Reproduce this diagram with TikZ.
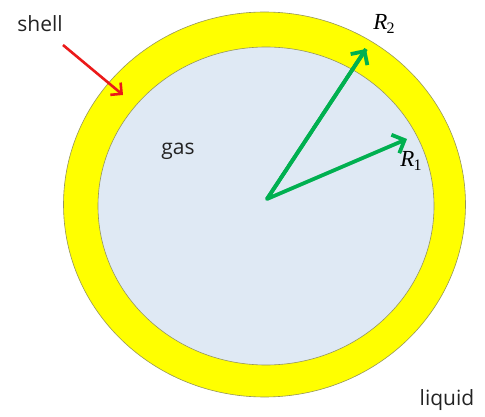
\documentclass[tikz,border=0pt]{standalone}
\usepackage{fontspec}
\setmainfont{Open Sans}
\newfontfamily\rfont{Liberation Serif}
\usetikzlibrary{arrows.meta}
\definecolor{shellyellow}{RGB}{255, 255, 0}
\definecolor{shelledge}{RGB}{150, 150, 90}
\definecolor{gasfill}{RGB}{223, 233, 244}
\definecolor{radiusgreen}{RGB}{0, 176, 80}
\definecolor{pointred}{RGB}{235, 25, 25}
\definecolor{labelgray}{RGB}{35, 35, 35}

\begin{document}
\begin{tikzpicture}[x=1pt,y=-1pt,
  lbl/.style={text=labelgray, font=\fontsize{21}{24}\selectfont, inner sep=0pt},
  rlbl/.style={font=\rfont\itshape\fontsize{23}{26}\selectfont, inner sep=0pt},
  radius arrow/.style={radiusgreen, line width=3.8pt, -{Straight Barb[length=10pt, width=20pt, line width=3.8pt]}}]
\useasboundingbox (0,0) rectangle (485,417);
% Bubble: shell and gas core
\draw[shelledge, line width=0.6pt, fill=shellyellow] (264.5,204.5) ellipse (201 and 192.5);
\draw[shelledge, line width=0.6pt, fill=gasfill] (266,206) ellipse (168 and 159);
% Radii
\coordinate (o) at (267,199);
\coordinate (r2tip) at (366,49);
\coordinate (r1tip) at (407,139);
\draw[radius arrow, line join=round] (r2tip) -- (o) -- (r1tip);
\draw[radius arrow] (o) -- (r2tip);
% Labels
\node[lbl] (shell) at (40,24) {shell};
\node[lbl] (gas) at (178,151) {gas};
\node[lbl] (liquid) at (447,400) {liquid};
\node[rlbl] (R2) at (384,24) {R\kern-1pt\raisebox{-4pt}{\fontsize{16}{18}\selectfont\upshape 2}};
\node[rlbl] (R1) at (411,161) {R\kern-1pt\raisebox{-4pt}{\fontsize{16}{18}\selectfont\upshape 1}};
% Pointer to the shell
\coordinate (shelltip) at (123,95);
\draw[pointred, line width=2.6pt, -{Straight Barb[length=8pt, width=16pt, line width=2.6pt]}] (63,45) -- (shelltip);
\end{tikzpicture}
\end{document}
